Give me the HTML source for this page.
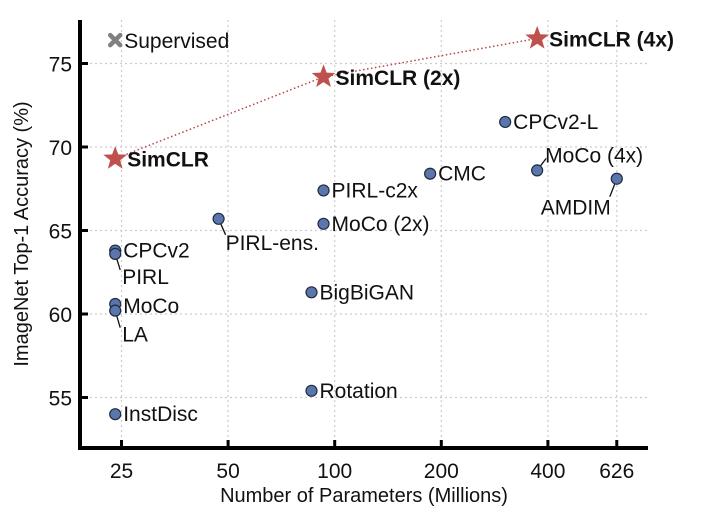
<!DOCTYPE html>
<html><head><meta charset="utf-8">
<style>
html,body{margin:0;padding:0;background:#fff;}
svg{display:block;font-family:"Liberation Sans",Arial,sans-serif;}
</style></head>
<body>
<svg id="chart" width="720" height="524" viewBox="0 0 720 524" xmlns="http://www.w3.org/2000/svg"></svg>
<script>
const xTicks = [25, 50, 100, 200, 400, 626];
const yTicks = [55, 60, 65, 70, 75];
const names = ["CPCv2-L","MoCo (4x)","AMDIM","CMC","PIRL-c2x","MoCo (2x)","PIRL-ens.","BigBiGAN","Rotation","CPCv2","PIRL","MoCo","LA","InstDisc"];
const params = [303, 373, 626, 186, 93, 93, 47, 86, 86, 24, 24, 24, 24, 24];
const accs = [71.5, 68.6, 68.1, 68.4, 67.4, 65.4, 65.7, 61.3, 55.4, 63.8, 63.6, 60.6, 60.2, 54.0];
const simNames = ["SimCLR","SimCLR (2x)","SimCLR (4x)"];
const simParams = [24, 93, 373];
const simAccs = [69.3, 74.2, 76.5];
const supParams = [24];
const supAccs = [76.4];

const NS="http://www.w3.org/2000/svg";
const svg=document.getElementById('chart');
const X0=80, X1=648, Y0=20, Y1=448;
const FS=21;
function px(p){return 121.5+106.6*Math.log2(p/25);}
function py(a){return 314-(a-60)*16.7;}
function el(tag,attrs,parent){const e=document.createElementNS(NS,tag);for(const k in attrs)e.setAttribute(k,attrs[k]);(parent||svg).appendChild(e);return e;}
function txt(s,x,y,attrs){const t=el('text',Object.assign({x:x,y:y,'font-size':FS,fill:'#111'},attrs||{}));t.textContent=s;return t;}

xTicks.forEach(t=>{const l=el('line',{x1:px(t),x2:px(t),y1:Y0,y2:Y1,stroke:'#ccc','stroke-width':1.2,'stroke-dasharray':'2,3'});

});
yTicks.forEach(t=>{const l=el('line',{x1:X0,x2:X1,y1:py(t),y2:py(t),stroke:'#ccc','stroke-width':1.2,'stroke-dasharray':'2,3'});

});

const ya=el('line',{x1:X0,x2:X0,y1:Y0,y2:Y1+2,stroke:'#000','stroke-width':4});


const xa=el('line',{x1:X0-2,x2:X1,y1:Y1,y2:Y1,stroke:'#000','stroke-width':4});


xTicks.forEach(t=>{
  const tk=el('line',{x1:px(t),x2:px(t),y1:Y1,y2:Y1-8,stroke:'#000','stroke-width':3});
  
  
  const lb=txt(String(t),px(t),478,{'text-anchor':'middle'});
  
  
});
yTicks.forEach(t=>{
  const tk=el('line',{x1:X0,x2:X0+8,y1:py(t),y2:py(t),stroke:'#000','stroke-width':3});
  
  
  const lb=txt(String(t),72,py(t)+8,{'text-anchor':'end'});
  
  
});
const xt=txt('Number of Parameters (Millions)',364,502,{'text-anchor':'middle','font-size':20});


const yt=txt('ImageNet Top-1 Accuracy (%)',0,0,{'text-anchor':'middle','font-size':20,transform:'translate(28,234) rotate(-90)'});



let d='';
simParams.forEach((p,i)=>{d+=(i?'L':'M')+px(p)+','+py(simAccs[i]);});
const sl=el('path',{d:d,fill:'none',stroke:'#b5474a','stroke-width':1.5,'stroke-dasharray':'1.5,2.5'});



const layout={
 "CPCv2-L":[8,7,'start',null],
 "MoCo (4x)":[8,-8,'start',[9,-12]],
 "AMDIM":[-6,36,'end',[-7,18]],
 "CMC":[8,7,'start',null],
 "PIRL-c2x":[8,7,'start',null],
 "MoCo (2x)":[8,7,'start',null],
 "PIRL-ens.":[7,31,'start',[7,16]],
 "BigBiGAN":[8,7,'start',null],
 "Rotation":[8,7,'start',null],
 "CPCv2":[8,7,'start',null],
 "PIRL":[7,30,'start',[5,16]],
 "MoCo":[8,9,'start',null],
 "LA":[7,31,'start',[5,17]],
 "InstDisc":[8,7,'start',null]
};
names.forEach((n,i)=>{
  const x=px(params[i]), y=py(accs[i]), L=layout[n];
  if(L[3]){const ln=el('line',{x1:x,y1:y,x2:x+L[3][0],y2:y+L[3][1],stroke:'#111','stroke-width':1.3});
    
    }
  const c=el('circle',{cx:x,cy:y,r:5.5,fill:'#5a76aa',stroke:'#1f2a44','stroke-width':1.2});
  
  
  const t=txt(n,x+L[0],y+L[1],{'text-anchor':L[2]});
  
  
});

function star(cx,cy,R){let pts=[];for(let k=0;k<10;k++){const r=k%2?R*0.42:R;const a=-Math.PI/2+k*Math.PI/5;pts.push((cx+r*Math.cos(a)).toFixed(1)+','+(cy+r*Math.sin(a)).toFixed(1));}return pts.join(' ');}
simNames.forEach((n,i)=>{
  const x=px(simParams[i]), y=py(simAccs[i]);
  const s=el('polygon',{points:star(x,y,12.5),fill:'#c0504d'});
  
  
  const t=txt(n,x+12,y+8,{'font-weight':'bold','font-size':FS});
  
  
});

supParams.forEach((p,i)=>{
  const x=px(p), y=py(supAccs[i]);
  const m=el('path',{d:`M${x-5},${y-5}L${x+5},${y+5}M${x+5},${y-5}L${x-5},${y+5}`,stroke:'#808080','stroke-width':4.5,'stroke-linecap':'round'});
  
  
  const t=txt('Supervised',x+9,y+8);
  
  
});
</script>
</body></html>
